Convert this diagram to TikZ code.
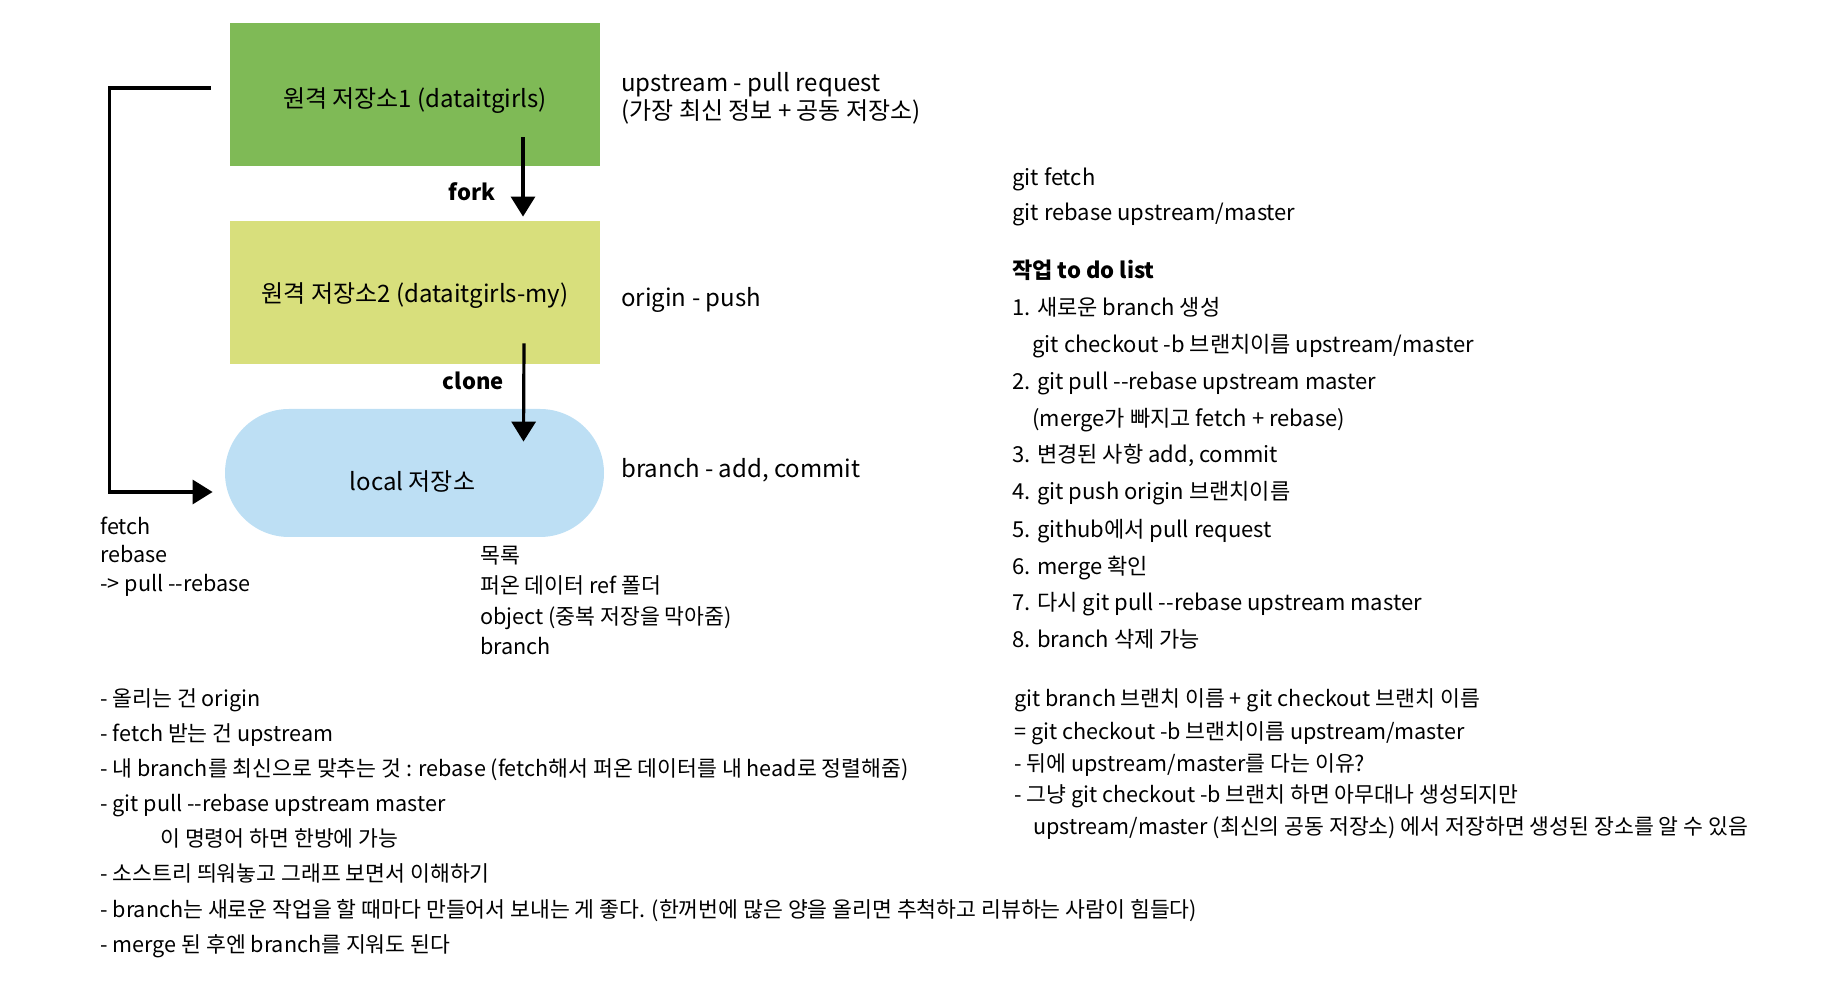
\documentclass[tikz,border=0pt]{standalone}
\usepackage{fontspec}
\setmainfont{Noto Sans CJK KR}
\usetikzlibrary{arrows.meta}
\definecolor{upgreen}{HTML}{7FBA56}
\definecolor{myyellow}{HTML}{D8DF7C}
\definecolor{localblue}{HTML}{BDDFF4}
\newcommand\dd{-\kern0pt-}
\tikzset{>={Triangle[width=12pt,length=10pt]}}
\tikzset{
  repo/.style={minimum width=185pt, minimum height=71.5pt, inner sep=0pt},
  boxtxt/.style={inner sep=0pt, font=\fontsize{12}{14}\selectfont},
  side/.style={anchor=base west, inner sep=0pt, font=\fontsize{12}{14}\selectfont},
  txt/.style={anchor=base west, inner sep=0pt, font=\fontsize{11}{13}\selectfont},
  small/.style={anchor=base west, inner sep=0pt, font=\fontsize{10.8}{12}\selectfont},
  arr/.style={line width=1.6pt, ->}
}

\begin{document}
\begin{tikzpicture}[x=0.5pt, y=-0.5pt]

  \useasboundingbox (0,0) rectangle (1822,1004);

  % repositories
  \node[repo, fill=upgreen] (repo1) at (415,94.5) {};
  \node[repo, fill=myyellow] (repo2) at (415,292.5) {};
  \node[repo, fill=localblue, minimum width=189.5pt, minimum height=64pt, rounded corners=32pt] (local) at (414.5,473) {};
  \node[boxtxt] (repo1txt) at ([yshift=-3pt]repo1.center) {원격 저장소1 (dataitgirls)};
  \node[boxtxt] (repo2txt) at ([yshift=-1.5pt]repo2.center) {원격 저장소2 (dataitgirls-my)};
  \node[boxtxt] (localtxt) at ([xshift=-1pt,yshift=-4.5pt]local.center) {local 저장소};

  \draw[arr] ([xshift=54pt,yshift=14.5pt]repo1.south) -- ([xshift=54pt,yshift=2pt]repo2.north);
  \node[anchor=east, inner sep=0pt, font=\fontsize{11}{13}\selectfont\bfseries] (fork) at (496,192) {fork};
  \draw[arr] ([xshift=54.5pt,yshift=10.5pt]repo2.south) -- ([xshift=54.5pt,yshift=-16.5pt]local.north);
  \node[anchor=east, inner sep=0pt, font=\fontsize{11}{13}\selectfont\bfseries] (clone) at (504,381) {clone};

  % fetch back to local
  \draw[arr] ([xshift=-9.5pt,yshift=3.25pt]repo1.west) -- ++(-50.5pt,0) |- ([xshift=-6pt,yshift=-9.5pt]local.west);

  \node[side] (up1) at (621,92) {upstream - pull request};
  \node[side] (up2) at (621,120) {(가장 최신 정보 + 공동 저장소)};
  \node[side] (orig) at (621,307) {origin - push};
  \node[side] (brn) at (621,478) {branch - add, commit};

  \node[small] (f1) at (100,535) {fetch};
  \node[small] (f2) at (100,563) {rebase};
  \node[small] (f3) at (100,592) {-> pull \dd rebase};

  \node[small] (d1) at (480,564) {목록};
  \node[small] (d2) at (480,594) {퍼온 데이터 ref 폴더};
  \node[small] (d3) at (480,625) {object (중복 저장을 막아줌)};
  \node[small] (d4) at (480,655) {branch};

  % right column
  \node[txt] (r1) at (1012,186) {git fetch};
  \node[txt] (r2) at (1012,221) {git rebase upstream/master};
  \node[txt, font=\fontsize{11}{13}\selectfont\bfseries] (todo) at (1012,279) {작업 to do list};
  \node[txt] (t1) at (1012,316) {1. 새로운 branch 생성};
  \node[txt] (t1b) at (1032,353) {git checkout -b 브랜치이름 upstream/master};
  \node[txt] (t2) at (1012,390) {2. git pull \dd rebase upstream master};
  \node[txt] (t2b) at (1032,427) {(merge가 빠지고 fetch + rebase)};
  \node[txt] (t3) at (1012,463) {3. 변경된 사항 add, commit};
  \node[txt] (t4) at (1012,500) {4. git push origin 브랜치이름};
  \node[txt] (t5) at (1012,538) {5. github에서 pull request};
  \node[txt] (t6) at (1012,575) {6. merge 확인};
  \node[txt] (t7) at (1012,611) {7. 다시 git pull \dd rebase upstream master};
  \node[txt] (t8) at (1012,648) {8. branch 삭제 가능};

  % notes
  \node[small] (n1) at (100,707) {- 올리는 건 origin};
  \node[small] (n2) at (100,742) {- fetch 받는 건 upstream};
  \node[small] (n3) at (100,777) {- 내 branch를 최신으로 맞추는 것 : rebase (fetch해서 퍼온 데이터를 내 head로 정렬해줌)};
  \node[small] (n4) at (100,812) {- git pull \dd rebase upstream master};
  \node[small] (n4b) at (160,847) {이 명령어 하면 한방에 가능};
  \node[small] (n5) at (100,882) {- 소스트리 띄워놓고 그래프 보면서 이해하기};
  \node[small] (n6) at (100,918) {- branch는 새로운 작업을 할 때마다 만들어서 보내는 게 좋다. (한꺼번에 많은 양을 올리면 추척하고 리뷰하는 사람이 힘들다)};
  \node[small] (n7) at (100,953) {- merge 된 후엔 branch를 지워도 된다};

  \node[small] (b1) at (1014,707) {git branch 브랜치 이름 + git checkout 브랜치 이름};
  \node[small] (b2) at (1014,740) {= git checkout -b 브랜치이름 upstream/master};
  \node[small] (b3) at (1014,772) {- 뒤에 upstream/master를 다는 이유?};
  \node[small] (b4) at (1014,803) {- 그냥 git checkout -b 브랜치 하면 아무대나 생성되지만};
  \node[small] (b5) at (1033,835) {upstream/master (최신의 공동 저장소) 에서 저장하면 생성된 장소를 알 수 있음};

\end{tikzpicture}
\end{document}
